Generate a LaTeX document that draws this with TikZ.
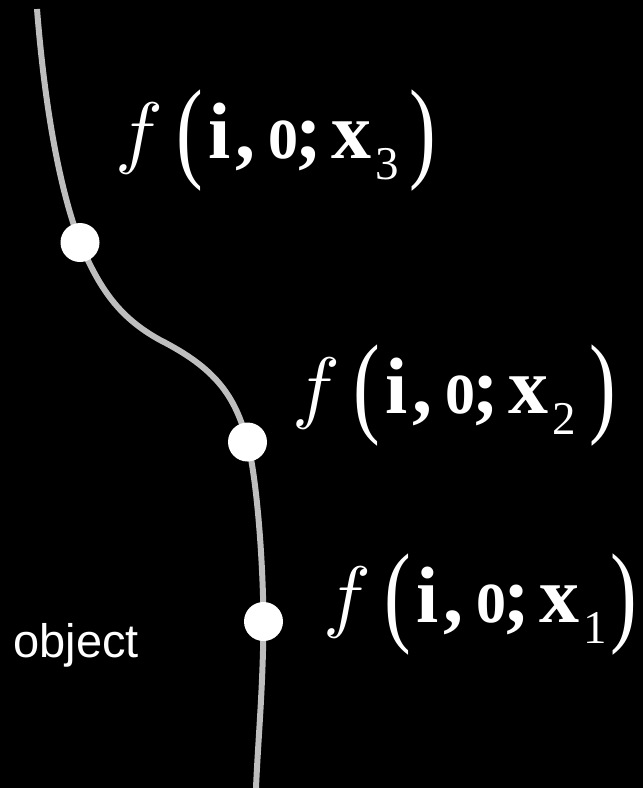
\documentclass[tikz,border=0pt]{standalone}
\usepackage{fontspec}
\setmainfont{Liberation Serif}
\newfontfamily\arialf{Liberation Sans}
\usepackage{graphicx}
\newcommand{\putat}[2]{\makebox[0pt][l]{\hspace*{#1}#2}}
\newcommand{\bigpar}[1]{\raisebox{-9.5pt}{\scalebox{1}[1.4]{#1}}}
\newcommand{\flabel}[2]{%
\fontsize{80}{80}\selectfont
\putat{0pt}{\scalebox{8}{\fontsize{10}{10}\selectfont$f$}}%
\putat{61.2pt}{\bigpar{(}}%
\putat{93.7pt}{\textbf{i}}%
\putat{119.9pt}{\textbf{,}}%
\putat{153pt}{\scalebox{0.75}[1]{\textbf{o}}}%
\putat{180.4pt}{\textbf{;}}%
\putat{216pt}{\textbf{x}}%
\putat{260pt}{\raisebox{-21pt}{\fontsize{47}{47}\selectfont #1}}%
\putat{#2}{\bigpar{)}}%
\hspace*{320pt}}
\definecolor{curvegray}{HTML}{BEBEBE}
\tikzset{
  dotnode/.style={circle, fill=white, draw=none, minimum size=39pt, inner sep=0pt},
  curveline/.style={draw=curvegray, line width=6pt},
  flab/.style={anchor=base west, inner sep=0pt, text=white},
}
\begin{document}
\begin{tikzpicture}[x=1pt,y=-1pt]
\fill[black] (0,0) rectangle (643,788);
\useasboundingbox (0,0) rectangle (643,788);
\coordinate (top) at (37,9);
\coordinate (bot) at (256,788);
\coordinate (mid) at (160,340);
\coordinate (d3) at (80,242.5);
\coordinate (d2) at (247.5,442);
\coordinate (d1) at (263.5,621.5);
\draw[curveline] (top) .. controls (45,110) and (60,190) .. (d3)
  .. controls (100,290) and (120,318) .. (mid)
  .. controls (215,368) and (235,395) .. (d2)
  .. controls (257,480) and (263,560) .. (d1)
  .. controls (263,690) and (258,740) .. (bot);
\node[dotnode] (p3) at (d3) {};
\node[dotnode] (p2) at (d2) {};
\node[dotnode] (p1) at (d1) {};
\node[flab] (l3) at (115,158) {\flabel{3}{294.7pt}};
\node[flab] (l2) at (292,413) {\flabel{2}{297.7pt}};
\node[flab] (l1) at (323,622) {\flabel{1}{287.7pt}};
\node[flab] (obj) at (13.3,657) {\arialf\fontsize{47}{47}\selectfont object};
\end{tikzpicture}
\end{document}
